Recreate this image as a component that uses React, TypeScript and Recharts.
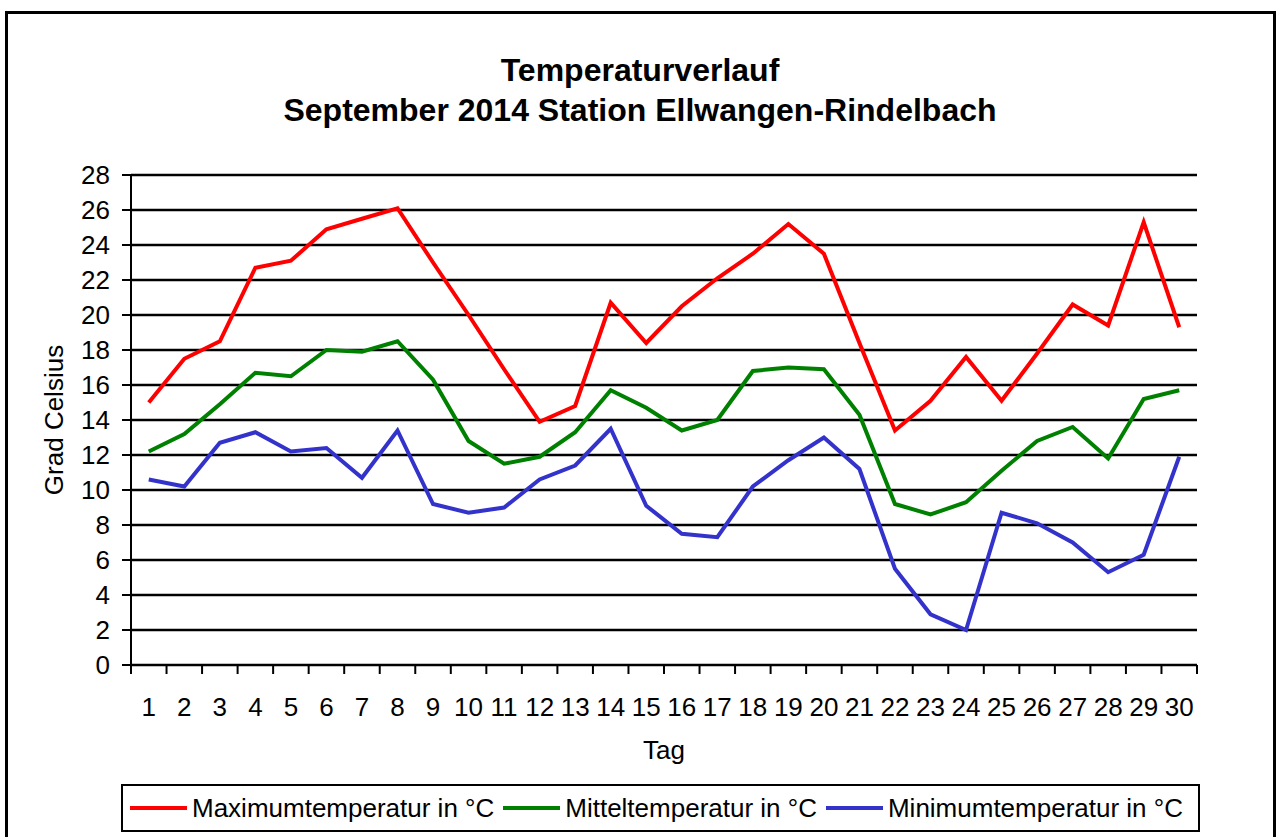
import { LineChart, Line, XAxis, YAxis, CartesianGrid, Legend } from "recharts";

const days = [
  "1", "2", "3", "4", "5", "6", "7", "8", "9", "10",
  "11", "12", "13", "14", "15", "16", "17", "18", "19", "20",
  "21", "22", "23", "24", "25", "26", "27", "28", "29", "30",
];

const maxTemp = [
  15.0, 17.5, 18.5, 22.7, 23.1, 24.9, 25.5, 26.1, 23.0, 20.0,
  16.9, 13.9, 14.8, 20.7, 18.4, 20.5, 22.1, 23.5, 25.2, 23.5,
  18.4, 13.4, 15.1, 17.6, 15.1, 17.8, 20.6, 19.4, 25.3, 19.3,
];

const meanTemp = [
  12.2, 13.2, 14.9, 16.7, 16.5, 18.0, 17.9, 18.5, 16.3, 12.8,
  11.5, 11.9, 13.3, 15.7, 14.7, 13.4, 14.0, 16.8, 17.0, 16.9,
  14.3, 9.2, 8.6, 9.3, 11.1, 12.8, 13.6, 11.8, 15.2, 15.7,
];

const minTemp = [
  10.6, 10.2, 12.7, 13.3, 12.2, 12.4, 10.7, 13.4, 9.2, 8.7,
  9.0, 10.6, 11.4, 13.5, 9.1, 7.5, 7.3, 10.2, 11.7, 13.0,
  11.2, 5.5, 2.9, 2.0, 8.7, 8.1, 7.0, 5.3, 6.3, 11.9,
];

const yTicks = [0, 2, 4, 6, 8, 10, 12, 14, 16, 18, 20, 22, 24, 26, 28];

const seriesInfo = [
  { key: "max", name: "Maximumtemperatur in °C", color: "#ff0000" },
  { key: "mean", name: "Mitteltemperatur in °C", color: "#008000" },
  { key: "min", name: "Minimumtemperatur in °C", color: "#3333cc" },
];

const data = days.map((day, i) => ({
  day,
  max: maxTemp[i],
  mean: meanTemp[i],
  min: minTemp[i],
}));

const FONT = "'Liberation Sans', Arial, sans-serif";
const X_TICK_MARGIN = 33;

// day label plus the small tick mark on the boundary between two days (Excel style)
function DayTick(props: any) {
  const { x, y, payload, index, visibleTicksCount, width } = props;
  const half = payload.offset || width / visibleTicksCount / 2;
  const axisY = y - X_TICK_MARGIN;
  return (
    <g>
      <line x1={x - half} x2={x - half} y1={axisY} y2={axisY + 9} stroke="#000" strokeWidth={2} />
      {index === visibleTicksCount - 1 && (
        <line x1={x + half} x2={x + half} y1={axisY} y2={axisY + 9} stroke="#000" strokeWidth={2} />
      )}
      <text x={x} y={y} dy="0.71em" textAnchor="middle" fill="#000" fontSize={26} fontFamily={FONT}>
        {payload.value}
      </text>
    </g>
  );
}

function LegendBox() {
  return (
    <div style={{ display: "flex", alignItems: "center", height: "100%", paddingLeft: 7, fontFamily: FONT, fontSize: 26, color: "#000", whiteSpace: "nowrap" }}>
      {seriesInfo.map((s) => (
        <div key={s.key} style={{ display: "flex", alignItems: "center", marginRight: 9 }}>
          <svg width={57} height={10} style={{ marginRight: 5 }}>
            <line x1={0} y1={5} x2={57} y2={5} stroke={s.color} strokeWidth={4} />
          </svg>
          <span>{s.name}</span>
        </div>
      ))}
    </div>
  );
}

export default function App() {
  return (
    <div style={{ position: "absolute", left: 0, top: 0, width: 1278, height: 837, background: "#fff", fontFamily: FONT, overflow: "hidden" }}>
      <div style={{ position: "absolute", left: 5, top: 11, width: 1271, height: 840, border: "3px solid #000", boxSizing: "border-box" }} />
      <div style={{ position: "absolute", left: 0, width: 1280, top: 50, height: 40, lineHeight: "40px", textAlign: "center", fontWeight: "bold", fontSize: 32 }}>
        Temperaturverlauf
      </div>
      <div style={{ position: "absolute", left: 0, width: 1280, top: 90, height: 40, lineHeight: "40px", textAlign: "center", fontWeight: "bold", fontSize: 32 }}>
        September 2014 Station Ellwangen-Rindelbach
      </div>
      <div style={{ position: "absolute", left: 0, top: 0 }}>
        <LineChart
          width={1278}
          height={837}
          data={data}
          margin={{ top: 175, right: 81, left: 30, bottom: 72 }}
          style={{ fontFamily: FONT }}
        >
          <CartesianGrid vertical={false} stroke="#000" strokeWidth={2.5} />
          <XAxis
            dataKey="day"
            scale="band"
            interval={0}
            height={100}
            axisLine={{ stroke: "#000", strokeWidth: 2 }}
            tickLine={false}
            tickSize={0}
            tickMargin={X_TICK_MARGIN}
            tick={<DayTick />}
            label={{ value: "Tag", position: "insideBottom", offset: 6, style: { fill: "#000", fontSize: 26 } }}
          />
          <YAxis
            domain={[0, 28]}
            ticks={yTicks}
            interval={0}
            width={101}
            tickSize={9}
            tickMargin={12}
            tick={{ fill: "#000", fontSize: 26 }}
            tickLine={{ stroke: "#000", strokeWidth: 2 }}
            axisLine={{ stroke: "#000", strokeWidth: 2 }}
            label={{ value: "Grad Celsius", angle: -90, position: "insideLeft", offset: 24, style: { textAnchor: "middle", fill: "#000", fontSize: 26 } }}
          />
          <YAxis
            yAxisId="right"
            orientation="right"
            domain={[0, 28]}
            width={0}
            tick={false}
            tickLine={false}
            axisLine={{ stroke: "#000", strokeWidth: 2 }}
          />
          {seriesInfo.map((s) => (
            <Line
              key={s.key}
              type="linear"
              dataKey={s.key}
              name={s.name}
              stroke={s.color}
              strokeWidth={4}
              dot={false}
              isAnimationActive={false}
            />
          ))}
          <Legend
            layout="horizontal"
            verticalAlign="middle"
            align="center"
            content={() => <LegendBox />}
            wrapperStyle={{ position: "absolute", left: 121, top: 784, width: 1079, height: 48, border: "2px solid #000", boxSizing: "border-box", background: "#fff" }}
          />
        </LineChart>
      </div>
    </div>
  );
}
